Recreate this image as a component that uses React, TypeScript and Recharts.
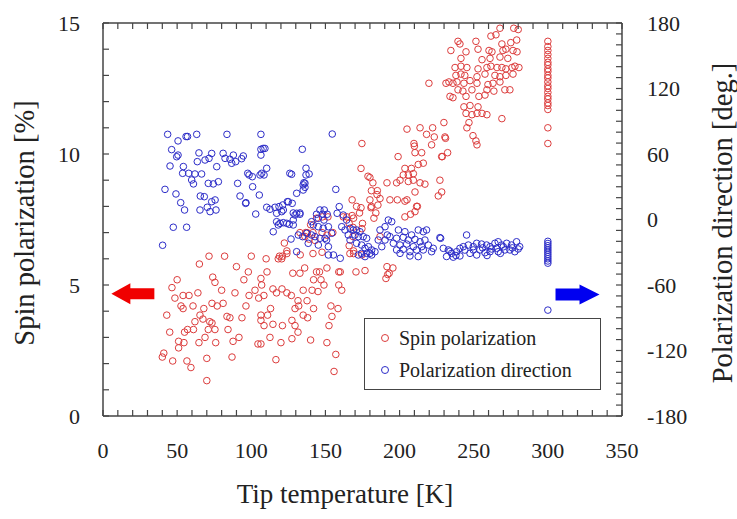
import React from "react"
import {
  ScatterChart,
  Scatter,
  XAxis,
  YAxis,
  ReferenceLine,
  ReferenceDot,
  Legend,
} from "recharts"

// tip temperature [K], spin polarization [%]
const spinLowT: [number, number][] = [
  [71.5, 6.1], [82, 6.1], [65, 5.8], [90, 5.7], [98, 5.5], [100, 6.1], [110, 6.0], [119, 6.1], [121, 6.1], [124, 6.3],
  [74, 5.3], [75.5, 5.1], [50, 5.2], [46.5, 4.9], [54, 4.6], [58, 4.6], [64, 4.7], [80, 4.8], [89, 4.7], [95, 5.2],
  [106.5, 5.25], [107, 5.0], [110.6, 5.5], [98.5, 4.6], [102.5, 4.8], [105, 4.5], [108.5, 4.6], [114.6, 4.85], [117, 4.7],
  [120.7, 4.85], [124, 4.7], [127, 4.6], [48.5, 4.5], [52.6, 4.2], [54, 4.1], [60.7, 4.2], [73.5, 4.3], [77, 4.2], [81, 4.3],
  [68, 4.1], [96.4, 4.2], [113, 4.1], [131.5, 4.4], [129.5, 4.1], [132, 4.2], [43, 3.85], [62, 3.6], [65.4, 3.85],
  [67.4, 3.7], [72, 3.6], [73.5, 3.55], [71, 3.3], [75.5, 3.3], [83.6, 3.8], [85.6, 3.75], [84.3, 3.3], [93.7, 3.75],
  [106.5, 3.85], [106.5, 3.65], [108.6, 3.45], [111, 3.85], [114.6, 3.5], [121, 3.45], [127.4, 3.65], [129.5, 3.45],
  [131.5, 3.2], [45, 3.2], [55, 3.2], [57, 3.3], [61, 3.3], [68.8, 3.0], [64.7, 2.8], [76, 2.8], [51, 2.85], [54.6, 2.8],
  [51, 2.6], [87.7, 2.85], [91.7, 3.0], [104.5, 2.75], [106.5, 2.75], [112.6, 3.0], [120, 2.8], [127.4, 2.95], [41, 2.4],
  [40, 2.25], [47, 2.1], [56.6, 2.1], [59.3, 1.85], [70, 2.2], [87, 2.25], [116.6, 2.15], [70, 1.35], [128, 5.45],
  [132.8, 5.45], [122.3, 6.6], [124, 6.2], [120.5, 6.0], [118.2, 6.0], [132.8, 7.0], [133, 6.15],
]

const spinMidT: [number, number][] = [
  [155.8, 1.7], [157, 2.35], [151, 2.8], [140, 2.9], [152.4, 3.45], [154.4, 3.8], [158.5, 4.1], [153.7, 4.2], [142, 4.1],
  [138, 3.75], [135, 3.85], [137.6, 4.4], [135, 4.8], [141, 4.8], [145, 4.75], [149, 5.0], [159, 5.0], [161, 4.8],
  [142, 5.2], [147, 5.2], [136, 5.65], [144, 5.5], [146, 5.5], [151, 5.65], [159, 5.5], [170.6, 5.5], [176.7, 5.55],
  [190.8, 5.25], [192, 5.4], [195.5, 5.65], [141.6, 6.2], [147.7, 6.25], [166.5, 6.2], [169, 6.2], [136.7, 7.0],
  [137.6, 7.0], [141.6, 7.0], [147.7, 7.0], [151, 6.9], [155, 7.0], [140, 7.3], [144, 7.55], [148, 7.6], [151.7, 7.6],
  [168, 7.65], [162, 7.6], [171, 8.0], [181, 8.0], [185.4, 8.05], [139, 6.75], [136.2, 6.85], [143, 6.7],
  [174.6, 10.4], [174, 9.45], [178.7, 9.15], [180, 9.1], [191.5, 8.9], [182, 8.9], [181, 8.6], [185, 8.6], [184.8, 8.45],
  [186.8, 8.3], [180, 8.25], [168, 8.25], [174, 7.95], [173, 7.75], [169, 7.55], [180.7, 7.95], [184, 7.75],
  [182.7, 7.55], [175, 7.35], [174.6, 7.15], [164.5, 7.6], [166, 7.35], [168.6, 7.2], [168.6, 6.85], [166, 6.5],
  [169, 6.3], [186.8, 6.85], [174.6, 6.15], [160, 5.5], [191.5, 5.7], [193, 5.45],
  [205, 10.95], [210, 10.3], [199, 9.9], [210.4, 10.05], [214.9, 10.05], [203.6, 9.45], [208, 9.45], [212.6, 9.6],
  [216, 9.65], [202.5, 9.2], [205.9, 9.2], [209.3, 9.25], [200.3, 9.0], [205.9, 8.95], [209.3, 9.0], [213.8, 8.9],
  [217.1, 8.85], [198, 8.9], [210.4, 8.55], [193.5, 8.25], [198.5, 8.25], [203.6, 8.2], [211.5, 8.0], [210.4, 7.8],
  [207.4, 7.7], [203.6, 7.6], [212, 8.0], [205, 8.25],
  [213.8, 11.0], [218.2, 10.75], [222.3, 11.0], [223.4, 10.65], [221.6, 10.35], [230.6, 10.65], [229.9, 11.2],
  [232.4, 10.05], [228.8, 9.9], [228.4, 9.9], [227.2, 9.0], [228.4, 8.55], [226.1, 8.4], [209.7, 10.4], [219.8, 12.7],
]

const spinHighT: [number, number][] = [
  [267.7, 14.8], [261.6, 14.5], [265, 14.55], [277, 14.8], [280, 14.75],
  [239.4, 14.3], [240.7, 14.2], [251.5, 14.3], [269, 14.2], [275, 14.25], [279, 14.35],
  [234.6, 13.95], [244.8, 13.9], [252.9, 14.0], [260.3, 13.95], [262.3, 13.9], [269.7, 13.95], [271.7, 14.0],
  [276.5, 13.95], [279.2, 13.9], [241.4, 13.65], [255.6, 13.6], [261, 13.65], [267.7, 13.7], [273, 13.65],
  [237.4, 13.3], [241.4, 13.35], [245.4, 13.3], [252.9, 13.25], [258.9, 13.3], [261.6, 13.35], [265.7, 13.3],
  [269, 13.3], [271.7, 13.25], [275.8, 13.3], [277.8, 13.35], [280.5, 13.3],
  [238, 13.0], [241.4, 13.05], [244, 13.0], [252.2, 12.95], [257.6, 13.05], [264.3, 13.0], [267.7, 12.95],
  [271.7, 13.0], [276.5, 13.05], [231.3, 12.7], [233.3, 12.75], [236, 12.7], [238.7, 12.75], [243.4, 12.7],
  [247.5, 12.8], [252.2, 12.7], [259.6, 12.65], [263, 12.7], [267.7, 12.75],
  [239.4, 12.45], [242.7, 12.4], [248.8, 12.45], [258.9, 12.45], [263.6, 12.4], [271, 12.45], [274.4, 12.45],
  [234, 12.2], [236, 12.15], [244.8, 12.2], [253.5, 12.2], [257.6, 12.25], [243.4, 11.8], [247.5, 11.85],
  [252.9, 11.8], [244.8, 11.55], [248.8, 11.5], [252.2, 11.55], [255.6, 11.55], [258.9, 11.5], [269, 11.35],
  [246.8, 11.2], [245.4, 11.0], [249.5, 10.7], [251.5, 10.5], [252.2, 10.35], [231, 10.6],
]

const spinAt300K = [
  14.3, 14.1, 13.95, 13.8, 13.65, 13.5, 13.4, 13.25, 13.15, 13.0, 12.9, 12.75, 12.6, 12.5, 12.35, 12.2, 12.1,
  11.95, 11.85, 11.7, 11.0, 10.4,
]

// tip temperature [K], polarization direction [deg.]
const dirLowT: [number, number][] = [
  [43.6, 78], [50.6, 72], [56, 76], [57, 76], [63.2, 78], [83.6, 78], [106.5, 78],
  [46.3, 64], [50.6, 59], [49.7, 57.5], [64.7, 61], [63.6, 53], [68.8, 54.5], [71.5, 56], [73.3, 60.5], [45.2, 49],
  [54.2, 48.5], [53.7, 42.3], [57.8, 42.3], [62, 41.7], [66.5, 41.7], [59.8, 36.2], [61, 32.6], [76.7, 48.4],
  [81, 60.6], [82.3, 56], [85.6, 55.2], [87.9, 59], [89.5, 53], [86.8, 51.5], [94.6, 58.2], [93.5, 55.7], [97.6, 42.3],
  [98.5, 40.8], [100.7, 39.2], [106.5, 59], [106.5, 64.3], [108, 65.1], [109.2, 65.1], [105.9, 40.8], [107, 42.3],
  [108.6, 40.8], [110.4, 46.9], [41.8, 27.6], [49.2, 23.4], [52.4, 15.4], [55, 8.7], [65.6, 21.5], [68.3, 20.9],
  [71, 33.1], [74.4, 32.6], [77.8, 34.6], [73.3, 16.3], [75.6, 17.9], [76.2, 8.7], [65.4, 8.7], [70.3, 11.2], [72.2, 7.2],
  [90.8, 33.1], [92.4, 21.5], [96.4, 15.4], [100.9, 30], [105.4, 22.4], [126, 42.3], [127.2, 41.4], [134.4, 64.3],
  [136.9, 47], [135, 31.7], [136.2, 33.2], [130.6, 24], [125, 16.3], [127.6, 14.8], [103, 5], [128.3, 6], [132.8, 6],
  [110.4, 11.2], [112.6, 9.4], [116, 11.2], [118.7, 11.8], [121.2, 13.3], [124.3, 16.3], [120.5, 7.2], [117.1, 5.7],
  [121.6, 8.7], [136.9, 40.8], [136.2, 29.5], [135, 27], [130.6, 5.7], [132.8, 4.8], [129.5, 4.1], [128.3, -0.5],
  [117.1, -2], [119.4, -3.5], [121.6, -2.9], [123.9, -3.5], [118.2, -5], [125.6, -4.4], [128.3, -5], [96.2, 14.8],
  [47.4, -7.1], [56.4, -7.1], [40.2, -23.6], [114.8, -11.2], [126.8, -17.9], [131.7, -14.2], [134.6, -15.7],
  [130.6, -29.5],
]

const dirMidT: [number, number][] = [
  [154.6, 78.3], [139, 41.7], [135.5, 33.7], [157, 27.6], [146.3, 8.7], [149.2, 8.7], [144, 4.8], [148, 4.8],
  [151.2, 4.8], [145.2, 1.1], [149, -0.5], [159.3, 11.8], [157.9, 5.7], [140.7, -2], [141.8, -5], [145.2, -6.6],
  [148.5, -8], [152, -6.6], [154.2, -12.6], [137.4, -12.6], [140.7, -14.2], [143, -15.7], [146.3, -17.2],
  [149.7, -17.2], [150.8, -18.8], [138.4, -21.8], [145.2, -23.4], [152, -24.9], [152, -32.5], [155.4, -32.5],
  [160, -35.5], [162, 4.1], [164.3, -0.5], [161, -6.6], [163.2, -9.6], [166.6, -8], [168.8, -9.6], [171, -9.6],
  [173.3, -11.2], [165.4, -14.2], [169.9, -14.2], [172.2, -15.7], [175.5, -15.7], [177.8, -17.2], [166.6, -18.8],
  [171, -21.8], [174.4, -23.4], [176.7, -26.4], [179, -24.9], [181.2, -27.9], [174.4, -31], [177.8, -31], [180, -31],
  [183.4, -29.5], [172.2, -32.5], [176.7, -34], [181.2, -32.5], [186.8, -9.6], [190.2, -6.6], [192.4, -0.5],
  [191.7, -14.2], [190.2, -18.8], [188, -24.9], [185.6, -18.8],
  [194.7, -2], [199.2, -9.6], [203.6, -11.2], [208.1, -14.2], [212.6, -9.6], [216, -11.2], [218.2, -9.6],
  [193.5, -15.7], [198, -17.2], [202.5, -16.3], [205.9, -18.8], [210.4, -18.2], [213.8, -20.4], [217.1, -18.8],
  [195.8, -21.8], [200.3, -23.4], [204.8, -22.5], [209.3, -24.9], [214.9, -24.9], [219.4, -23.4], [222.7, -26.4],
  [198, -27.9], [202.5, -27.3], [207, -29.5], [211.5, -27.9], [216, -27.9], [221.6, -29.5], [200.3, -31],
  [207, -33.4], [212.6, -34], [227.2, -16.6], [227.7, -17.2],
]

const dirHighT: [number, number][] = [
  [245.2, -14.2], [229.5, -26.4], [232.9, -27.9], [235.1, -31], [238.5, -29.5], [240.7, -26.4], [243, -24.9],
  [246.4, -23.4], [249.7, -24.9], [252, -21.8], [255.3, -22.5], [258.7, -23.4], [261, -24.9], [264.3, -21.8],
  [266.5, -20.4], [268.8, -23.4], [272.2, -21.8], [275.5, -23.4], [278.9, -20.4], [281, -24.9], [231.7, -33.9],
  [236.2, -34.5], [240.7, -33.4], [247.5, -31], [252, -32.5], [257.6, -30.4], [261, -29.5], [266.5, -29.5],
  [271, -27.9], [274.4, -27.9], [277.7, -29.5], [249.7, -27.9], [254.2, -27.9], [265.4, -26.4], [244, -28],
  [256, -26], [262, -27], [270, -25], [276, -26], [234, -29], [238, -33], [259, -33], [268, -31], [280, -27],
]

const dirAt300K = [-20, -22, -24, -26, -28, -30, -32, -34, -36, -38, -40, -83]

const xTicks = [
  0, 10, 20, 30, 40, 50, 60, 70, 80, 90, 100, 110, 120, 130, 140, 150, 160, 170, 180, 190, 200, 210, 220, 230, 240,
  250, 260, 270, 280, 290, 300, 310, 320, 330, 340, 350,
]
const xLabels = [0, 50, 100, 150, 200, 250, 300, 350]
const spinTicks = [0, 1, 2, 3, 4, 5, 6, 7, 8, 9, 10, 11, 12, 13, 14, 15]
const spinLabels = [0, 5, 10, 15]
const dirTicks = [
  -180, -170, -160, -150, -140, -130, -120, -110, -100, -90, -80, -70, -60, -50, -40, -30, -20, -10, 0, 10, 20, 30,
  40, 50, 60, 70, 80, 90, 100, 110, 120, 130, 140, 150, 160, 170, 180,
]
const dirLabels = [-180, -120, -60, 0, 60, 120, 180]

const RED = "#dc3c3c"
const BLUE = "#2c2cc8"
const FRAME = "#454545"
const FONT = "Liberation Serif, DejaVu Serif, serif"
const PLOT_H = 393

const spinData = [...spinLowT, ...spinMidT, ...spinHighT, ...spinAt300K.map((v) => [300, v] as [number, number])].map(
  ([t, v]) => ({ t, v })
)
const dirData = [...dirLowT, ...dirMidT, ...dirHighT, ...dirAt300K.map((v) => [300, v] as [number, number])].map(
  ([t, v]) => ({ t, v })
)

const ring = (color: string) => (p: any) =>
  <circle cx={p.cx} cy={p.cy} r={3.3} fill="none" stroke={color} strokeWidth={1} />

const BottomTick = (p: any) => {
  const { x, y, payload } = p
  return (
    <g>
      <line x1={x} x2={x} y1={y} y2={y - 6} stroke={FRAME} strokeWidth={1.2} />
      <line x1={x} x2={x} y1={y - PLOT_H} y2={y - PLOT_H + 6} stroke={FRAME} strokeWidth={1.2} />
      {xLabels.includes(payload.value) && (
        <text x={x} y={y + 42} textAnchor="middle" style={{ fontFamily: FONT, fontSize: 22 }} fill="#222">
          {payload.value}
        </text>
      )}
    </g>
  )
}

const LeftTick = (p: any) => {
  const { x, y, payload } = p
  return (
    <g>
      <line x1={x} x2={x + 6} y1={y} y2={y} stroke={FRAME} strokeWidth={1.2} />
      {spinLabels.includes(payload.value) && (
        <text x={x - 23} y={y + 7.5} textAnchor="end" style={{ fontFamily: FONT, fontSize: 22 }} fill="#222">
          {payload.value}
        </text>
      )}
    </g>
  )
}

const RightTick = (p: any) => {
  const { x, y, payload } = p
  return (
    <g>
      <line x1={x} x2={x - 6} y1={y} y2={y} stroke={FRAME} strokeWidth={1.2} />
      {dirLabels.includes(payload.value) && (
        <text x={x + 25} y={y + 7.5} textAnchor="start" style={{ fontFamily: FONT, fontSize: 22 }} fill="#222">
          {payload.value}
        </text>
      )}
    </g>
  )
}

const LeftArrow = (p: any) => {
  const { cx, cy } = p
  const pts = [
    [cx - 21, cy], [cx - 2, cy - 10.5], [cx - 2, cy - 5.5], [cx + 22, cy - 5.5],
    [cx + 22, cy + 5.5], [cx - 2, cy + 5.5], [cx - 2, cy + 10.5],
  ]
  return <polygon points={pts.map((q) => q.join(",")).join(" ")} fill="#f00000" />
}

const RightArrow = (p: any) => {
  const { cx, cy } = p
  const pts = [
    [cx + 22, cy], [cx + 2, cy - 10], [cx + 2, cy - 6], [cx - 22, cy - 6],
    [cx - 22, cy + 6], [cx + 2, cy + 6], [cx + 2, cy + 10],
  ]
  return <polygon points={pts.map((q) => q.join(",")).join(" ")} fill="#0000f0" />
}

const legendItems = [
  { name: "Spin polarization", color: RED },
  { name: "Polarization direction", color: BLUE },
]

const LegendBox = () => (
  <div
    style={{
      border: `1px solid ${FRAME}`,
      background: "#fff",
      padding: "3px 0 3px 12px",
      fontFamily: FONT,
      fontSize: 20,
      color: "#222",
      boxSizing: "border-box",
      width: 237,
    }}
  >
    {legendItems.map((it) => (
      <div key={it.name} style={{ display: "flex", alignItems: "center", height: 32 }}>
        <svg width={16} height={16} style={{ marginRight: 6 }}>
          <circle cx={8} cy={8} r={3.5} fill="none" stroke={it.color} strokeWidth={1} />
        </svg>
        <span>{it.name}</span>
      </div>
    ))}
  </div>
)

const titleStyle: React.CSSProperties = {
  position: "absolute",
  height: 32,
  lineHeight: "32px",
  textAlign: "center",
  fontFamily: FONT,
  color: "#222",
  whiteSpace: "nowrap",
}

export default function App() {
  return (
    <div style={{ position: "absolute", left: 0, top: 0, width: 737, height: 519, background: "#fff", fontFamily: FONT }}>
      <ScatterChart width={737} height={519} margin={{ top: 23, right: 55, bottom: 43, left: 43 }}>
        <XAxis
          type="number"
          dataKey="t"
          domain={[0, 350]}
          ticks={xTicks}
          interval={0}
          tickSize={0}
          tickMargin={0}
          tick={<BottomTick />}
          height={60}
          axisLine={{ stroke: FRAME, strokeWidth: 1.5 }}
        />
        <YAxis
          yAxisId="left"
          type="number"
          dataKey="v"
          domain={[0, 15]}
          ticks={spinTicks}
          interval={0}
          tickSize={0}
          tickMargin={0}
          tick={<LeftTick />}
          width={60}
          axisLine={{ stroke: FRAME, strokeWidth: 1.5 }}
        />
        <YAxis
          yAxisId="right"
          orientation="right"
          type="number"
          dataKey="v"
          domain={[-180, 180]}
          ticks={dirTicks}
          interval={0}
          tickSize={0}
          tickMargin={0}
          tick={<RightTick />}
          width={60}
          axisLine={{ stroke: FRAME, strokeWidth: 1.5 }}
        />
        <ReferenceLine yAxisId="left" y={15} stroke={FRAME} strokeWidth={1.5} />
        <Scatter
          name="Spin polarization"
          yAxisId="left"
          data={spinData}
          fill={RED}
          shape={ring(RED)}
          isAnimationActive={false}
        />
        <Scatter
          name="Polarization direction"
          yAxisId="right"
          data={dirData}
          fill={BLUE}
          shape={ring(BLUE)}
          isAnimationActive={false}
        />
        <ReferenceDot yAxisId="left" x={19.8} y={4.67} r={0} shape={LeftArrow} ifOverflow="visible" />
        <ReferenceDot yAxisId="left" x={320} y={4.64} r={0} shape={RightArrow} ifOverflow="visible" />
        <Legend
          layout="vertical"
          align="center"
          verticalAlign="middle"
          content={<LegendBox />}
          wrapperStyle={{ position: "absolute", left: 364, top: 318, width: 237 }}
        />
      </ScatterChart>
      <div style={{ ...titleStyle, fontSize: 28.5, left: 25 - 200, top: 223 - 16, width: 400, transform: "rotate(-90deg)" }}>
        Spin polarization [%]
      </div>
      <div style={{ ...titleStyle, fontSize: 28.5, left: 723 - 200, top: 223 - 16, width: 400, transform: "rotate(-90deg)" }}>
        Polarization direction [deg.]
      </div>
      <div style={{ ...titleStyle, fontSize: 27, left: 345 - 200, top: 494 - 16, width: 400 }}>Tip temperature [K]</div>
    </div>
  )
}
